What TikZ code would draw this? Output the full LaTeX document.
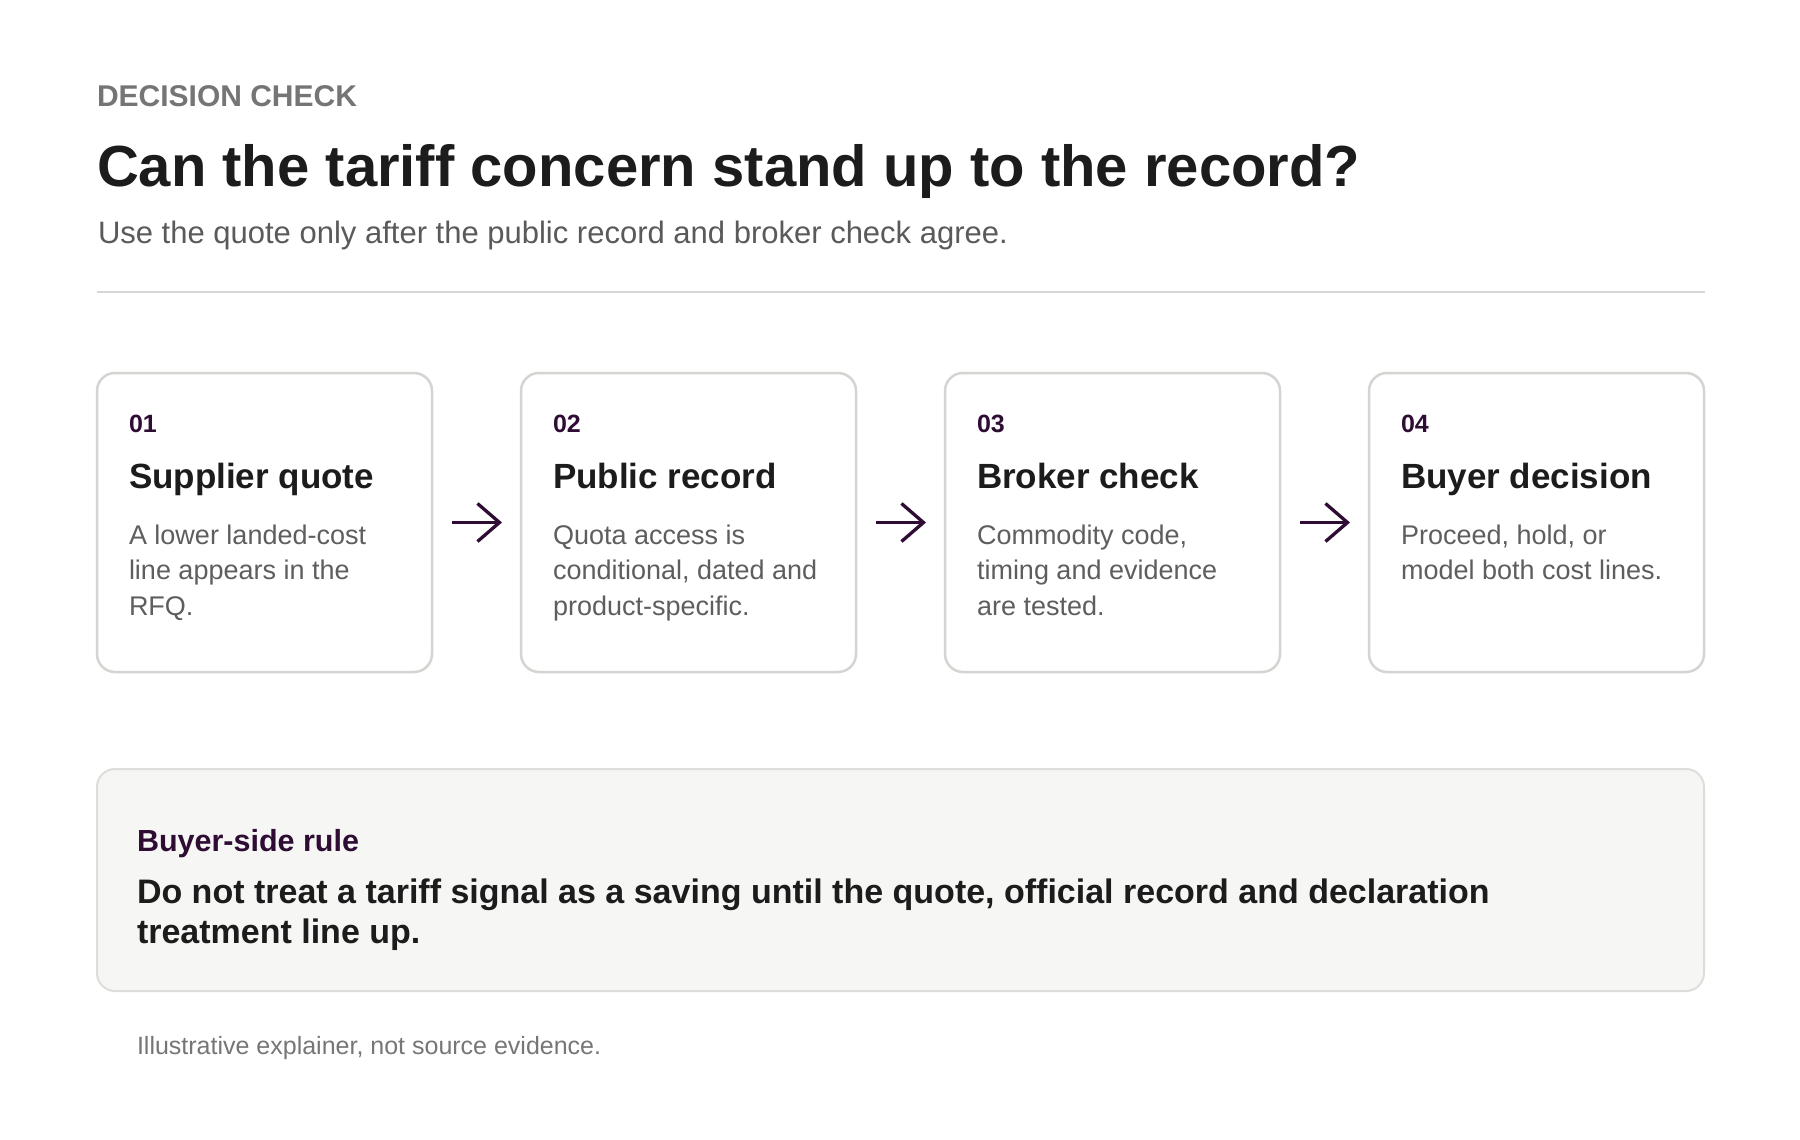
\documentclass[tikz,border=0pt]{standalone}
\usepackage{fontspec}
\setmainfont{Liberation Sans}
\usetikzlibrary{arrows.meta}
\definecolor{purp}{HTML}{2E0C33}
\definecolor{ink}{HTML}{1C1C1C}
\definecolor{bodytxt}{HTML}{5E5E5E}
\definecolor{kicker}{HTML}{757575}
\definecolor{subtxt}{HTML}{5A5A5A}
\definecolor{rulegray}{HTML}{D9D7D4}
\definecolor{cardline}{HTML}{D6D4D0}
\definecolor{panel}{HTML}{F6F6F4}
\definecolor{panelline}{HTML}{DFDDDA}
\definecolor{foot}{HTML}{767676}
\begin{document}
\begin{tikzpicture}[x=0.5pt,y=-0.5pt,
  txt/.style={inner sep=0pt, outer sep=0pt, anchor=base west, align=left},
  card/.style={draw=cardline, line width=1.25pt, fill=white, rounded corners=9pt,
    minimum width=167.5pt, minimum height=149.5pt, inner sep=0pt, outer sep=0pt, anchor=north west},
  num/.style={txt, font=\bfseries\fontsize{12.5}{15}\selectfont, text=purp},
  ctitle/.style={txt, font=\bfseries\fontsize{17.5}{21}\selectfont, text=ink},
  cbody/.style={txt, font=\fontsize{13.5}{17.75}\selectfont, text=bodytxt},
  flow/.style={draw=purp, line width=1.65pt, line join=miter,
    -{Straight Barb[length=11pt,width=19pt]}}
]
\useasboundingbox[fill=white] (0,0) rectangle (1800,1140);

% header
\node[txt, font=\bfseries\fontsize{15}{17}\selectfont, text=kicker] (kick) at (97,106) {DECISION CHECK};
\node[txt, font=\bfseries\fontsize{29}{34}\selectfont, text=ink] (title) at (97,186) {Can the tariff concern stand up to the record?};
\node[txt, font=\fontsize{15.5}{18}\selectfont, text=subtxt] (sub) at (98,243) {Use the quote only after the public record and broker check agree.};
\coordinate (rl) at (97,292);
\coordinate (rr) at (1705,292);
\draw[rulegray, line width=1pt] (rl) -- (rr);

% cards
\node[card] (c1) at (97,373) {};
\node[card] (c2) at (521,373) {};
\node[card] (c3) at (945,373) {};
\node[card] (c4) at (1369,373) {};

% (multi-line nodes: base anchor sits on the last line)
\node[num] (n1) at (129,432) {01};
\node[ctitle] (t1) at (129,488) {Supplier quote};
\node[cbody] (b1) at (129,615) {A lower landed-cost\\line appears in the\\RFQ.};

\node[num] (n2) at (553,432) {02};
\node[ctitle] (t2) at (553,488) {Public record};
\node[cbody] (b2) at (553,615) {Quota access is\\conditional, dated and\\product-specific.};

\node[num] (n3) at (977,432) {03};
\node[ctitle] (t3) at (977,488) {Broker check};
\node[cbody] (b3) at (977,615) {Commodity code,\\timing and evidence\\are tested.};

\node[num] (n4) at (1401,432) {04};
\node[ctitle] (t4) at (1401,488) {Buyer decision};
\node[cbody] (b4) at (1401,579.5) {Proceed, hold, or\\model both cost lines.};

\draw[flow] ([xshift=10pt]c1.east) -- ([xshift=-9.5pt]c2.west);
\draw[flow] ([xshift=10pt]c2.east) -- ([xshift=-9.5pt]c3.west);
\draw[flow] ([xshift=10pt]c3.east) -- ([xshift=-9.5pt]c4.west);

% rule panel
\node[draw=panelline, fill=panel, line width=1pt, rounded corners=9pt, minimum width=803.5pt,
  minimum height=111pt, inner sep=0pt, outer sep=0pt, anchor=north west] (panel) at (97,769) {};
\node[txt, font=\bfseries\fontsize{15.25}{18}\selectfont, text=purp] (rk) at (137,851) {Buyer-side rule};
\node[txt, font=\bfseries\fontsize{17}{20}\selectfont, text=ink] (rt) at (137,943)
  {Do not treat a tariff signal as a saving until the quote, official record and declaration\\treatment line up.};

% footer
\node[txt, font=\fontsize{12.5}{15}\selectfont, text=foot] (ft) at (137,1054) {Illustrative explainer, not source evidence.};
\end{tikzpicture}
\end{document}
